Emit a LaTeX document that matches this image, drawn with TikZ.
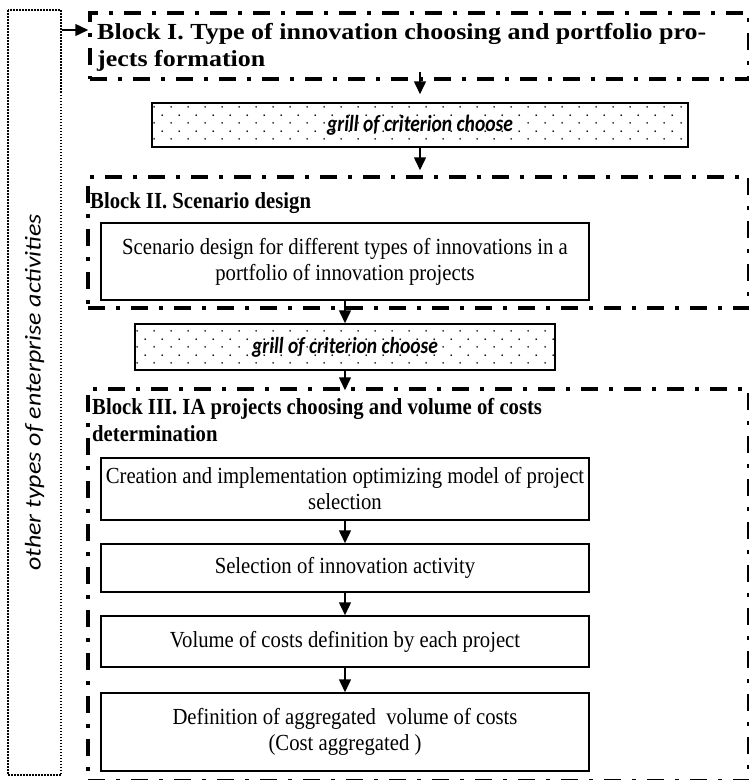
\documentclass[tikz,border=0pt]{standalone}
\usepackage{fontspec}
\setmainfont{Liberation Serif}[FakeStretch=0.9]
\newfontfamily\widefont{Liberation Serif}[FakeStretch=1.13]
\newfontfamily\grillfont{Carlito}[FakeStretch=0.85]
\newfontfamily\sidefont{Carlito}[FakeStretch=1.15]
\usetikzlibrary{arrows.meta,patterns.meta}

\tikzdeclarepattern{
  name=grilldots,
  type=uncolored,
  bounding box={(0pt,0pt) and (17pt,16pt)},
  tile size={(17pt,16pt)},
  code={
    \fill (1.2pt,1.2pt) circle [radius=1pt];
    \fill (9.7pt,9.2pt) circle [radius=1pt];
  }
}

\begin{document}
\begin{tikzpicture}[x=1pt, y=-1pt,
  blockframe/.style={draw, line width=3.5pt, dash pattern=on 17pt off 11pt on 4pt off 11pt, inner sep=0pt},
  blocktitle/.style={font=\fontsize{23}{27}\selectfont\bfseries, align=left, inner sep=0pt, anchor=north west},
  stepbox/.style={draw, line width=1.5pt, minimum width=488pt, align=center, inner sep=2pt, font=\fontsize{23}{26}\selectfont},
  grill/.style={draw, line width=1.5pt, pattern=grilldots, pattern color=black, font=\grillfont\bfseries\itshape\fontsize{23}{26}\selectfont},
  sidebox/.style={draw, line width=2pt, dash pattern=on 1.5pt off 1.5pt, font=\sidefont\itshape\fontsize{22.6}{26}\selectfont},
  arr/.style={-{Triangle[length=13pt,width=12pt]}, line width=1.5pt}]
\useasboundingbox (0,0) rectangle (748,780);
% Side frame
\node [sidebox, rotate=90, minimum width=765pt, minimum height=53pt] (other) at (34.5,392.5) {other types of enterprise activities};
% Block I
\node [blockframe, minimum width=659pt, minimum height=66pt] (blockI) at (419.5,46) {};
\node [blocktitle, font=\widefont\fontsize{23}{27}\selectfont\bfseries] (titleI) at (97,23) {Block I. Type of innovation choosing and portfolio pro-\\jects formation};
% Grill 1
\node [grill, minimum width=536pt, minimum height=44pt] (grillA) at (420,125) {grill of criterion choose};
% Block II
\node [blockframe, minimum width=661pt, minimum height=131pt] (blockII) at (418.5,242.5) {};
\node [blocktitle] (titleII) at (90,192) {Block II. Scenario design};
\node [stepbox, minimum height=77pt] (scen) at (345,261.5) {Scenario design for different types of innovations in a\\portfolio of innovation projects};
% Grill 2
\node [grill, minimum width=420pt, minimum height=46pt] (grillB) at (345,347) {grill of criterion choose};
% Block III
\node [blockframe, minimum width=661pt, minimum height=392pt] (blockIII) at (418.5,585) {};
\node [blocktitle] (titleIII) at (92,398) {Block III. IA projects choosing and volume of costs\\determination};
\node [stepbox, minimum height=62pt] (model) at (345,489) {Creation and implementation optimizing model of project\\selection};
\node [stepbox, minimum height=48pt] (select) at (345,568) {Selection of innovation activity};
\node [stepbox, minimum height=51pt] (volume) at (345,641.5) {Volume of costs definition by each project};
\node [stepbox, minimum height=78pt] (aggr) at (345,732) {Definition of aggregated\ \ volume of costs\\(Cost aggregated )};
% Side frame --> Block I
\coordinate (toI) at (blockI.west |- 0,30);
\draw [arr] (other.south east |- toI) -- (toI);
% Block I --> grill 1
\draw [arr] ([yshift=9pt]blockI.south -| grillA.north) -- ([yshift=8pt]grillA.north);
% grill 1 --> Block II
\draw [arr] (grillA.south) -- ([yshift=5pt]grillA.south |- blockII.north);
% Block II --> grill 2
\draw [arr] (scen.south) -- (grillB.north);
% grill 2 --> Block III
\draw [arr] (grillB.south) -- ([yshift=-3pt]grillB.south |- blockIII.north);
% Steps of Block III
\draw [arr] (model) -- (select);
\draw [arr] (select) -- (volume);
\draw [arr] (volume) -- (aggr);
\end{tikzpicture}
\end{document}
